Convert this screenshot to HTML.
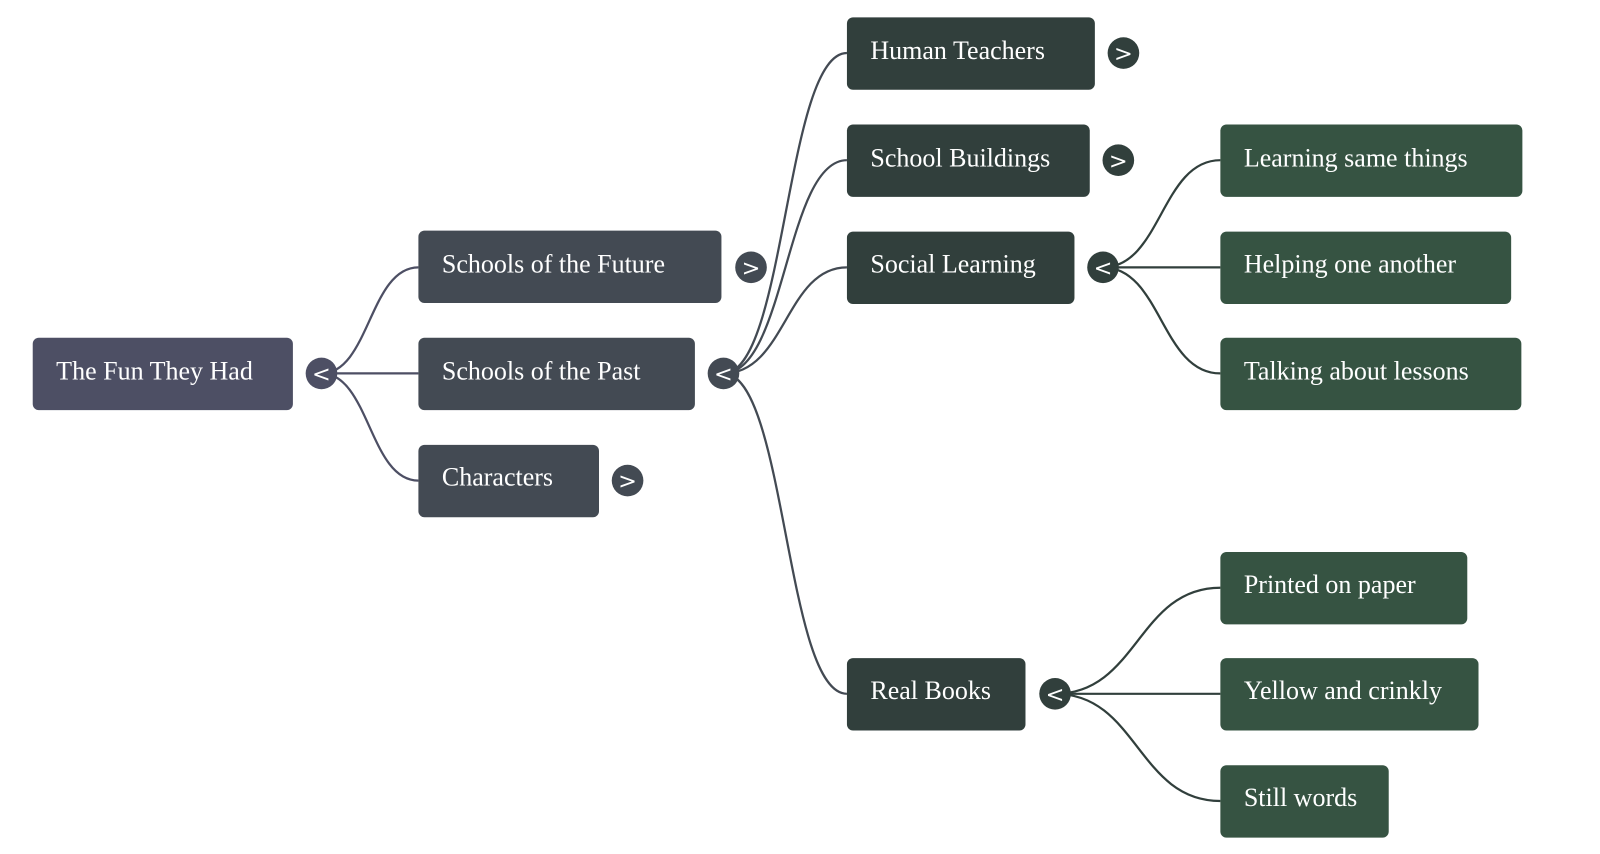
<!DOCTYPE html>
<html><head><meta charset="utf-8"><style>
html,body{margin:0;padding:0;background:#fff;}
svg{display:block;}
.t{font-family:"Liberation Serif",serif;font-size:25.5px;fill:#fff;}
.c{font-family:"DejaVu Sans","Liberation Sans",sans-serif;font-size:22px;fill:#fff;}
path{fill:none;stroke-width:2.2;}
</style></head><body>
<svg width="1600" height="854" viewBox="0 0 1568 837" xmlns="http://www.w3.org/2000/svg">
<g stroke="#4d4f64">
<path d="M315,366 C362,366 362,262 410,262"/>
<path d="M315,366 L410,366"/>
<path d="M315,366 C362,366 362,471 410,471"/>
</g>
<g stroke="#434a53">
<path d="M709,366 C770,366 770,52 830,52"/>
<path d="M709,366 C770,366 770,157 830,157"/>
<path d="M709,366 C770,366 770,262 830,262"/>
<path d="M709,366 C770,366 770,680 830,680"/>
</g>
<g stroke="#313f3c">
<path d="M1081,262 C1138,262 1138,157 1196,157"/>
<path d="M1081,262 L1196,262"/>
<path d="M1081,262 C1138,262 1138,366 1196,366"/>
<path d="M1034,680 C1115,680 1115,576 1196,576"/>
<path d="M1034,680 L1196,680"/>
<path d="M1034,680 C1115,680 1115,785 1196,785"/>
</g>
<rect x="32" y="331" width="255" height="71" rx="6" fill="#4d4f64"/>
<text class="t" x="55" y="372">The Fun They Had</text>

<rect x="410" y="226" width="297" height="71" rx="6" fill="#434a53"/>
<text class="t" x="433" y="267">Schools of the Future</text>
<rect x="410" y="331" width="271" height="71" rx="6" fill="#434a53"/>
<text class="t" x="433" y="372">Schools of the Past</text>
<rect x="410" y="436" width="177" height="71" rx="6" fill="#434a53"/>
<text class="t" x="433" y="476">Characters</text>

<g fill="#313f3c">
<rect x="830" y="17" width="243" height="71" rx="6"/>
<rect x="830" y="122" width="238" height="71" rx="6"/>
<rect x="830" y="227" width="223" height="71" rx="6"/>
<rect x="830" y="645" width="175" height="71" rx="6"/>
</g>
<text class="t" x="853" y="58">Human Teachers</text>
<text class="t" x="853" y="163">School Buildings</text>
<text class="t" x="853" y="267">Social Learning</text>
<text class="t" x="853" y="685">Real Books</text>

<g fill="#365342">
<rect x="1196" y="122" width="296" height="71" rx="6"/>
<rect x="1196" y="227" width="285" height="71" rx="6"/>
<rect x="1196" y="331" width="295" height="71" rx="6"/>
<rect x="1196" y="541" width="242" height="71" rx="6"/>
<rect x="1196" y="645" width="253" height="71" rx="6"/>
<rect x="1196" y="750" width="165" height="71" rx="6"/>
</g>
<text class="t" x="1219" y="163">Learning same things</text>
<text class="t" x="1219" y="267">Helping one another</text>
<text class="t" x="1219" y="372">Talking about lessons</text>
<text class="t" x="1219" y="581">Printed on paper</text>
<text class="t" x="1219" y="685">Yellow and crinkly</text>
<text class="t" x="1219" y="790">Still words</text>

<circle cx="315" cy="366" r="15.5" fill="#4d4f64"/><text class="c" x="315" y="374" text-anchor="middle">&lt;</text>
<circle cx="736" cy="262" r="15.5" fill="#434a53"/><text class="c" x="736" y="270" text-anchor="middle">&gt;</text>
<circle cx="709" cy="366" r="15.5" fill="#434a53"/><text class="c" x="709" y="374" text-anchor="middle">&lt;</text>
<circle cx="615" cy="471" r="15.5" fill="#434a53"/><text class="c" x="615" y="479" text-anchor="middle">&gt;</text>
<circle cx="1101" cy="52" r="15.5" fill="#313f3c"/><text class="c" x="1101" y="60" text-anchor="middle">&gt;</text>
<circle cx="1096" cy="157" r="15.5" fill="#313f3c"/><text class="c" x="1096" y="165" text-anchor="middle">&gt;</text>
<circle cx="1081" cy="262" r="15.5" fill="#313f3c"/><text class="c" x="1081" y="270" text-anchor="middle">&lt;</text>
<circle cx="1034" cy="680" r="15.5" fill="#313f3c"/><text class="c" x="1034" y="688" text-anchor="middle">&lt;</text>
</svg>
</body></html>
